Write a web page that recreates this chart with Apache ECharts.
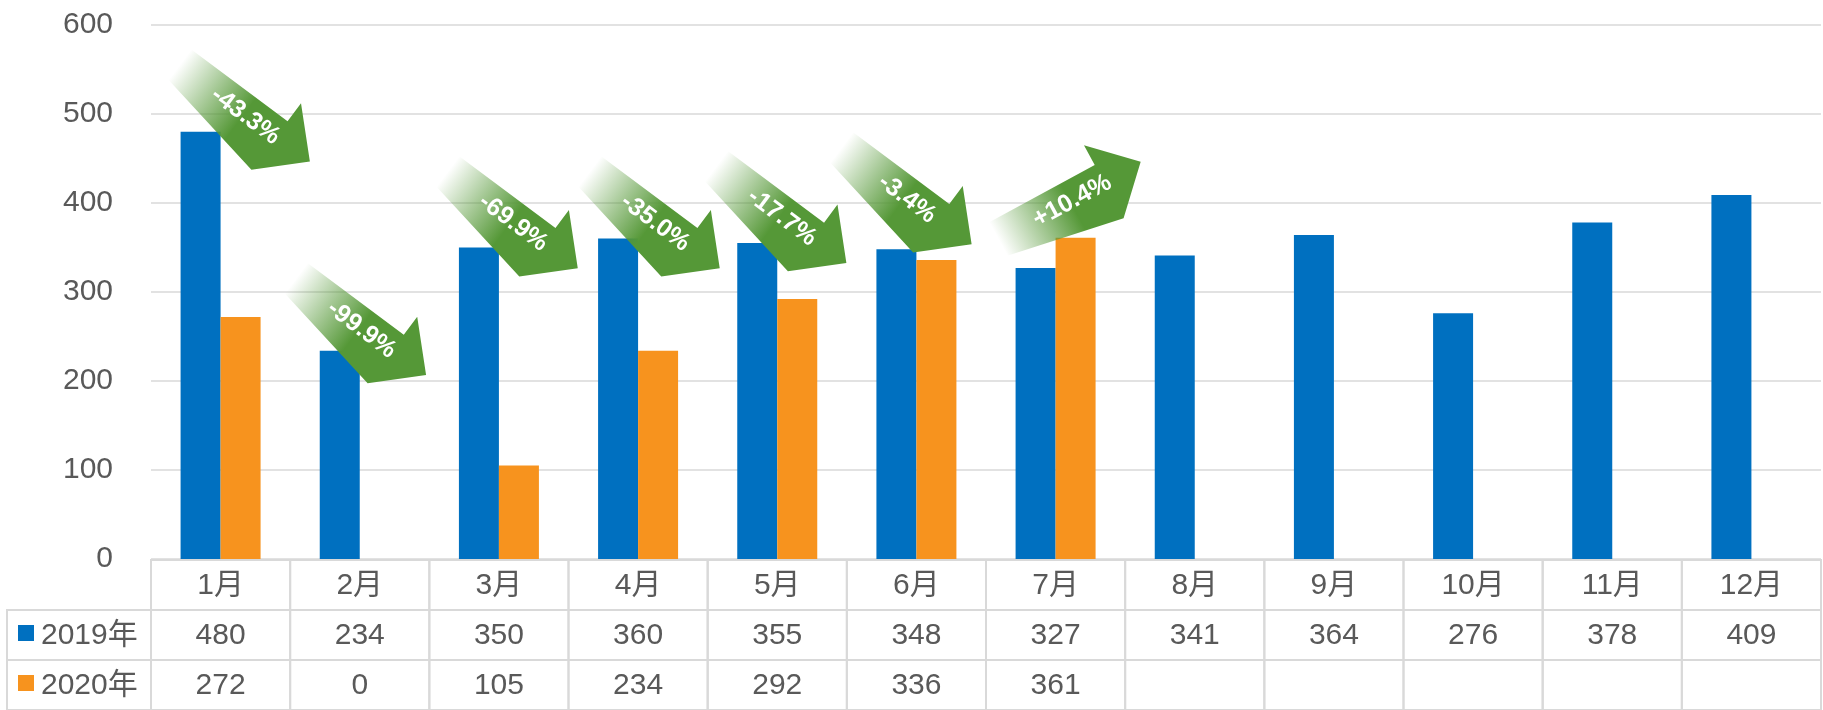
<!DOCTYPE html>
<html>
<head>
<meta charset="utf-8">
<style>
  html, body { margin: 0; padding: 0; background: #fff; }
  #chart { width: 1823px; height: 710px; }
</style>
<script src="https://cdn.jsdelivr.net/npm/echarts@6/dist/echarts.min.js"></script>
</head>
<body>
<div id="chart"></div>
<script>
var months = ['1月', '2月', '3月', '4月', '5月', '6月', '7月', '8月', '9月', '10月', '11月', '12月'];
var seriesNames = ['2019年', '2020年'];
var sales2019 = [480, 234, 350, 360, 355, 348, 327, 341, 364, 276, 378, 409];
var sales2020 = [272, 0, 105, 234, 292, 336, 361, null, null, null, null, null];

// 同比变化箭头：标签、所在数值高度、相对月份中心的偏移（按类目宽度比例）
var arrowLabels = ['-43.3%', '-99.9%', '-69.9%', '-35.0%', '-17.7%', '-3.4%', '+10.4%'];
var arrowLevels = [501, 261, 381, 381, 387, 408, 403];
var arrowShifts = [0.175, 0.01, 0.1, 0.12, 0.03, -0.07, 0.1];

var blue = '#0070c0';
var orange = '#f7931e';
var green = '#559837';
var grey = '#595959';
var rule = '#d9d9d9';
var font = "'Liberation Sans', Arial, 'Noto Sans CJK SC', sans-serif";

var chart = echarts.init(document.getElementById('chart'), null, { renderer: 'canvas' });

// 箭头形状（局部坐标，指向 +x）
var arrowPts = [[-81, -19], [39, -19], [39, -41.5], [81, 0], [39, 41.5], [-81, 19]];

// 表格单元格
var cells = [];
months.forEach(function(m, j) {
  cells.push({ value: [j, 0], text: m });
  cells.push({ value: [j, 1], text: String(sales2019[j]) });
  cells.push({ value: [j, 2], text: sales2020[j] == null ? '' : String(sales2020[j]) });
});
var rowLabels = [
  { value: [0, 1], text: seriesNames[0], color: blue },
  { value: [0, 2], text: seriesNames[1], color: orange }
];

chart.setOption({
  animation: false,
  backgroundColor: '#fff',
  textStyle: { fontFamily: font },
  grid: [
    { left: 151, right: 2, top: 25, bottom: 151 },
    { left: 151, right: 2, top: 560, height: 153 }
  ],
  xAxis: [
    {
      type: 'category', gridIndex: 0, data: months,
      axisLine: { show: false }, axisTick: { show: false }, axisLabel: { show: false }
    },
    {
      type: 'category', gridIndex: 1, data: months, show: false
    }
  ],
  yAxis: [
    {
      type: 'value', gridIndex: 0, min: 0, max: 600, interval: 100,
      axisLine: { show: false }, axisTick: { show: false },
      axisLabel: { color: grey, fontSize: 30, margin: 38, fontFamily: font },
      splitLine: { lineStyle: { color: rule, width: 1.5 } }
    },
    {
      type: 'category', gridIndex: 1, data: ['月份', seriesNames[0], seriesNames[1]],
      inverse: true, show: false
    }
  ],
  series: [
    {
      name: seriesNames[0], type: 'bar', xAxisIndex: 0, yAxisIndex: 0,
      data: sales2019, barWidth: 40, barGap: '0%',
      itemStyle: { color: blue }
    },
    {
      name: seriesNames[1], type: 'bar', xAxisIndex: 0, yAxisIndex: 0,
      data: sales2020, barWidth: 40, barGap: '0%',
      itemStyle: { color: orange }
    },
    {
      type: 'custom', xAxisIndex: 0, yAxisIndex: 0, z: 10, clip: false,
      data: arrowLevels.map(function(v, i) { return [i, v]; }),
      renderItem: function(params, api) {
        var i = params.dataIndex;
        var p = api.coord([api.value(0), api.value(1)]);
        var band = api.size([1, 0])[0];
        var up = arrowLabels[i].charAt(0) === '+';
        var ang = (up ? 28.5 : -36.7) * Math.PI / 180;
        return {
          type: 'group',
          x: p[0] + arrowShifts[i] * band,
          y: p[1],
          rotation: ang,
          children: [
            {
              type: 'polygon',
              shape: { points: arrowPts },
              style: {
                fill: new echarts.graphic.LinearGradient(0, 0, 1, 0, [
                  { offset: 0, color: 'rgba(85,152,55,0)' },
                  { offset: 0.5, color: 'rgba(85,152,55,1)' },
                  { offset: 1, color: green }
                ])
              }
            },
            {
              type: 'text',
              x: 2, y: 2,
              style: {
                text: arrowLabels[i],
                fill: '#fff',
                fontSize: 25,
                fontWeight: 'bold',
                fontFamily: font,
                align: 'center',
                verticalAlign: 'middle'
              }
            }
          ]
        };
      }
    },
    {
      type: 'custom', xAxisIndex: 1, yAxisIndex: 1, clip: false,
      data: cells.map(function(c) { return c.value; }),
      renderItem: function(params, api) {
        var c = api.coord([api.value(0), api.value(1)]);
        var s = api.size([1, 1]);
        return {
          type: 'group',
          children: [
            {
              type: 'rect',
              shape: { x: c[0] - s[0] / 2, y: c[1] - s[1] / 2, width: s[0], height: s[1] },
              style: { fill: 'none', stroke: rule, lineWidth: 2 }
            },
            {
              type: 'text',
              x: c[0], y: c[1] + 1,
              style: {
                text: cells[params.dataIndex].text,
                fill: grey, fontSize: 30, fontFamily: font,
                align: 'center', verticalAlign: 'middle'
              }
            }
          ]
        };
      }
    },
    {
      type: 'custom', xAxisIndex: 1, yAxisIndex: 1, clip: false,
      data: rowLabels.map(function(r) { return r.value; }),
      renderItem: function(params, api) {
        var r = rowLabels[params.dataIndex];
        var c = api.coord([api.value(0), api.value(1)]);
        var s = api.size([1, 1]);
        var x0 = params.coordSys.x;
        return {
          type: 'group',
          children: [
            {
              type: 'rect',
              shape: { x: x0 - 144, y: c[1] - s[1] / 2, width: 144, height: s[1] },
              style: { fill: 'none', stroke: rule, lineWidth: 2 }
            },
            {
              type: 'rect',
              shape: { x: x0 - 133, y: c[1] - 10, width: 16, height: 16 },
              style: { fill: r.color }
            },
            {
              type: 'text',
              x: x0 - 110, y: c[1] + 1,
              style: {
                text: r.text, fill: grey, fontSize: 30, fontFamily: font,
                align: 'left', verticalAlign: 'middle'
              }
            }
          ]
        };
      }
    }
  ]
});

window.addEventListener('resize', function() {
  chart.resize();
});
</script>
</body>
</html>
